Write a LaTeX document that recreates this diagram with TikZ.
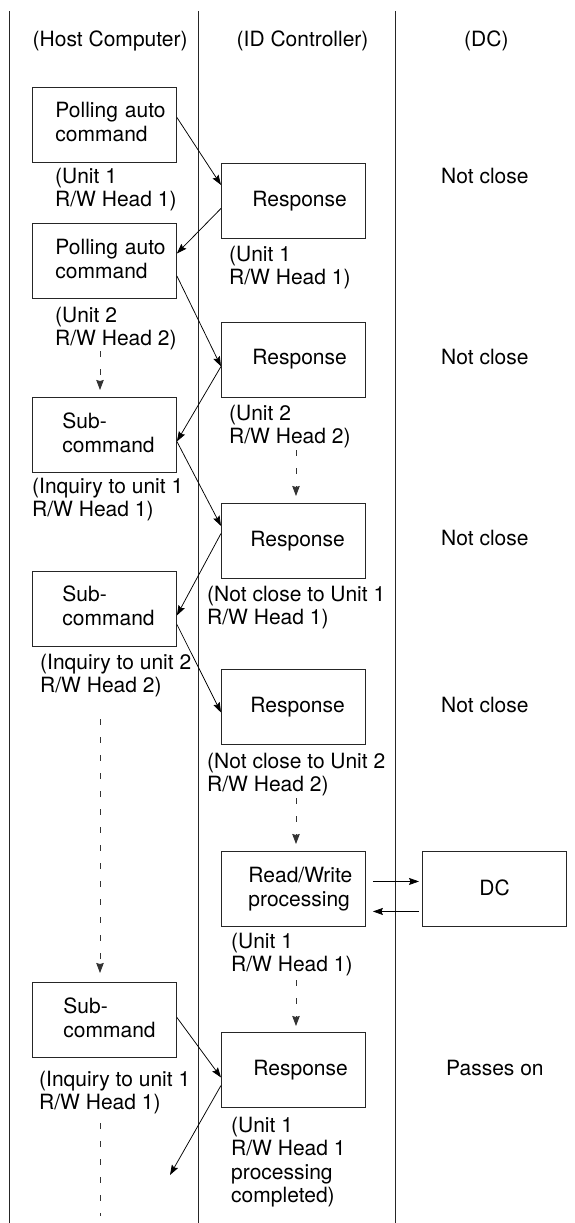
\documentclass[tikz,border=0pt]{standalone}
\usepackage{fontspec}
\setmainfont{TeX Gyre Heros}
\usetikzlibrary{arrows.meta}
\tikzset{
  every node/.style={font=\fontsize{21}{23.6}\selectfont},
  lane/.style={line width=0.9pt,draw=black!85},
  cmdbox/.style={draw=black!85,line width=0.9pt,anchor=north west,minimum width=144pt,minimum height=75pt,
    text width=140pt,inner xsep=2pt,inner ysep=0pt,align=left,execute at begin node={\leftskip=#1\relax}},
  lift/.style={execute at end node={\par\vspace{#1}}},
  note/.style={anchor=base west,inner sep=0pt,align=left},
  msg/.style={line width=0.75pt,-{Stealth[length=10pt,width=7pt,inset=1.5pt]}},
  flow/.style={line width=0.8pt,draw=black!80,dash pattern=on 6pt off 12pt,-{Stealth[length=10pt,width=7.5pt,inset=1pt]}},
  flowend/.style={line width=0.8pt,draw=black!80,dash pattern=on 6pt off 12pt},
}
\begin{document}
\begin{tikzpicture}[x=1pt,y=-1pt]
\useasboundingbox (0,0) rectangle (574,1223);
% lanes
\coordinate (l1t) at (9,11); \coordinate (l1b) at (9,1223);
\coordinate (l2t) at (198,11); \coordinate (l2b) at (198,1223);
\coordinate (l3t) at (395,11); \coordinate (l3b) at (395,1223);
\draw[lane] (l1t) -- (l1b);
\draw[lane] (l2t) -- (l2b);
\draw[lane] (l3t) -- (l3b);
% headers
\node[note] (hhost) at (32.5,47) {(Host Computer)};
\node[note] (hid) at (236.5,47) {(ID Controller)};
\node[note] (hdc) at (464,47) {(DC)};
% host boxes
\node[cmdbox=21pt,lift=6pt] (p1) at (32,87) {Polling auto\\command};
\node[cmdbox=21pt,lift=4pt] (p2) at (32,223) {Polling auto\\command};
\node[cmdbox=28pt,lift=4pt] (s1) at (32,397) {Sub-\\command};
\node[cmdbox=28pt,lift=6pt] (s2) at (32,571) {Sub-\\command};
\node[cmdbox=29pt,lift=4pt] (s3) at (32,982) {Sub-\\command};
% controller boxes
\node[cmdbox=29pt] (r1) at (221,163) {Response};
\node[cmdbox=29pt] (r2) at (221,321.5) {Response};
\node[cmdbox=27pt] (r3) at (221,503) {Response};
\node[cmdbox=27pt] (r4) at (221,669) {Response};
\node[cmdbox=25pt] (rw) at (221,851) {Read/Write\\processing};
\node[cmdbox=30pt] (r5) at (221,1032) {Response};
\node[cmdbox=55pt,lift=2pt] (dc) at (422,851) {DC};
% notes: the given y is the baseline of the last line
\node[note] (n1) at (55,206.6) {(Unit 1\\R/W Head 1)};
\node[note] (n2) at (229,284.6) {(Unit 1\\R/W Head 1)};
\node[note] (n3) at (55,345.6) {(Unit 2\\R/W Head 2)};
\node[note] (n4) at (229,443.6) {(Unit 2\\R/W Head 2)};
\node[note] (n5) at (32,516.6) {(Inquiry to unit 1\\R/W Head 1)};
\node[note] (n6) at (207,624.6) {(Not close to Unit 1\\R/W Head 1)};
\node[note] (n7) at (40,692.6) {(Inquiry to unit 2\\R/W Head 2)};
\node[note] (n8) at (207,791.6) {(Not close to Unit 2\\R/W Head 2)};
\node[note] (n9) at (231,971.6) {(Unit 1\\R/W Head 1)};
\node[note] (n10) at (39,1109.6) {(Inquiry to unit 1\\R/W Head 1)};
\node[note] (n11) at (231,1202.8) {(Unit 1\\R/W Head 1\\processing\\completed)};
% DC column
\node[note] (c1) at (441,183) {Not close};
\node[note] (c2) at (441,364) {Not close};
\node[note] (c3) at (441,545) {Not close};
\node[note] (c4) at (441,712) {Not close};
\node[note] (c5) at (446,1075) {Passes on};
% messages
\draw[msg] ([yshift=7.5pt]p1.east) -- ([yshift=16pt]r1.west);
\draw[msg] ([yshift=-7.5pt]r1.west) -- ([yshift=7.5pt]p2.east);
\draw[msg] ([yshift=-15pt]p2.east) -- ([yshift=-7pt]r2.west);
\draw[msg] ([yshift=-7pt]r2.west) -- ([yshift=-6.5pt]s1.east);
\draw[msg] ([yshift=-6.5pt]s1.east) -- ([yshift=15pt]r3.west);
\draw[msg] ([yshift=7.5pt]r3.west) -- ([yshift=-6.5pt]s2.east);
\draw[msg] ([yshift=-15.5pt]s2.east) -- ([yshift=-5.5pt]r4.west);
\draw[msg] ([yshift=2.5pt]s3.east) -- ([yshift=-7.5pt]r5.west);
\coordinate (out) at (170,1175);
\draw[msg] ([yshift=-15.5pt]r5.west) -- (out);
% pending flow
\coordinate (f1a) at (100,351); \coordinate (f1b) at (100,390);
\coordinate (f2a) at (100,719); \coordinate (f2b) at (100,973);
\coordinate (f3a) at (100,1123); \coordinate (f3b) at (100,1216);
\coordinate (f4a) at (296,450); \coordinate (f4b) at (296,496);
\coordinate (f5a) at (296,798); \coordinate (f5b) at (296,844);
\coordinate (f6a) at (296,980); \coordinate (f6b) at (296,1026);
\draw[flow] (f1a) -- (f1b);
\draw[flow] (f2a) -- (f2b);
\draw[flowend] (f3a) -- (f3b);
\draw[flow] (f4a) -- (f4b);
\draw[flow] (f5a) -- (f5b);
\draw[flow] (f6a) -- (f6b);
% DC exchange
\draw[msg] ([xshift=7pt,yshift=7.5pt]rw.east) -- ([xshift=-3pt,yshift=7.5pt]dc.west);
\draw[msg] ([xshift=-3pt,yshift=-22.5pt]dc.west) -- ([xshift=7pt,yshift=-22.5pt]rw.east);
\end{tikzpicture}
\end{document}
